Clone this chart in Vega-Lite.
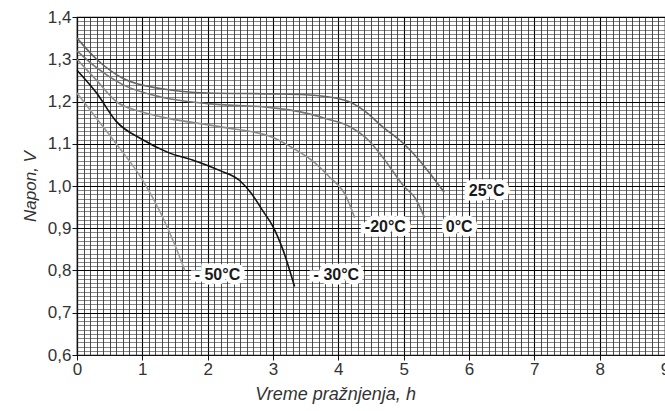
{
  "$schema": "https://vega.github.io/schema/vega-lite/v6.json",
  "width": 588,
  "height": 338,
  "autosize": "none",
  "padding": {"left": 77, "top": 17, "right": 0, "bottom": 56},
  "background": "white",
  "config": {
    "view": {"stroke": "#111", "strokeWidth": 1.2},
    "font": "Liberation Sans"
  },
  "datasets": {
    "curves": [
      {"t": "25°C", "h": 0, "v": 1.35}, {"t": "25°C", "h": 0.3, "v": 1.3}, {"t": "25°C", "h": 0.7, "v": 1.255}, {"t": "25°C", "h": 1.3, "v": 1.23}, {"t": "25°C", "h": 2.0, "v": 1.22}, {"t": "25°C", "h": 3.0, "v": 1.218}, {"t": "25°C", "h": 3.5, "v": 1.216}, {"t": "25°C", "h": 4.1, "v": 1.203}, {"t": "25°C", "h": 4.4, "v": 1.178}, {"t": "25°C", "h": 4.67, "v": 1.141}, {"t": "25°C", "h": 5.0, "v": 1.1}, {"t": "25°C", "h": 5.19, "v": 1.07}, {"t": "25°C", "h": 5.4, "v": 1.03}, {"t": "25°C", "h": 5.62, "v": 0.985},
      {"t": "0°C", "h": 0, "v": 1.32}, {"t": "0°C", "h": 0.3, "v": 1.28}, {"t": "0°C", "h": 0.7, "v": 1.24}, {"t": "0°C", "h": 1.3, "v": 1.21}, {"t": "0°C", "h": 2.0, "v": 1.195}, {"t": "0°C", "h": 3.0, "v": 1.185}, {"t": "0°C", "h": 3.4, "v": 1.176}, {"t": "0°C", "h": 3.8, "v": 1.16}, {"t": "0°C", "h": 4.17, "v": 1.141}, {"t": "0°C", "h": 4.45, "v": 1.11}, {"t": "0°C", "h": 4.67, "v": 1.07}, {"t": "0°C", "h": 5.0, "v": 1.0}, {"t": "0°C", "h": 5.19, "v": 0.968}, {"t": "0°C", "h": 5.32, "v": 0.925},
      {"t": "-20°C", "h": 0, "v": 1.3}, {"t": "-20°C", "h": 0.3, "v": 1.25}, {"t": "-20°C", "h": 0.6, "v": 1.2}, {"t": "-20°C", "h": 1.0, "v": 1.175}, {"t": "-20°C", "h": 1.4, "v": 1.16}, {"t": "-20°C", "h": 2.2, "v": 1.14}, {"t": "-20°C", "h": 3.0, "v": 1.115}, {"t": "-20°C", "h": 3.3, "v": 1.09}, {"t": "-20°C", "h": 3.6, "v": 1.06}, {"t": "-20°C", "h": 3.86, "v": 1.022}, {"t": "-20°C", "h": 4.12, "v": 0.975}, {"t": "-20°C", "h": 4.25, "v": 0.925},
      {"t": "-30°C", "h": 0, "v": 1.274}, {"t": "-30°C", "h": 0.3, "v": 1.22}, {"t": "-30°C", "h": 0.6, "v": 1.153}, {"t": "-30°C", "h": 1.0, "v": 1.11}, {"t": "-30°C", "h": 1.4, "v": 1.079}, {"t": "-30°C", "h": 1.8, "v": 1.06}, {"t": "-30°C", "h": 2.18, "v": 1.037}, {"t": "-30°C", "h": 2.49, "v": 1.013}, {"t": "-30°C", "h": 2.67, "v": 0.982}, {"t": "-30°C", "h": 2.85, "v": 0.94}, {"t": "-30°C", "h": 3.0, "v": 0.904}, {"t": "-30°C", "h": 3.15, "v": 0.85}, {"t": "-30°C", "h": 3.33, "v": 0.762},
      {"t": "-50°C", "h": 0, "v": 1.22}, {"t": "-50°C", "h": 0.3, "v": 1.16}, {"t": "-50°C", "h": 0.6, "v": 1.1}, {"t": "-50°C", "h": 1.0, "v": 1.015}, {"t": "-50°C", "h": 1.3, "v": 0.93}, {"t": "-50°C", "h": 1.5, "v": 0.86}, {"t": "-50°C", "h": 1.65, "v": 0.8}
    ],
    "labels": [
      {"txt": "25°C", "h": 6.27, "v": 0.987},
      {"txt": "0°C", "h": 5.85, "v": 0.902},
      {"txt": "-20°C", "h": 4.72, "v": 0.902},
      {"txt": "- 30°C", "h": 3.97, "v": 0.79},
      {"txt": "- 50°C", "h": 2.15, "v": 0.79}
    ]
  },
  "layer": [
    {
      "data": {"name": "curves"},
      "mark": {"type": "line", "strokeWidth": 1.6, "interpolate": "monotone"},
      "encoding": {
        "x": {
          "field": "h", "type": "quantitative",
          "scale": {"domain": [0, 9], "nice": false, "zero": false},
          "axis": {
            "title": "Vreme pražnjenja, h",
            "titleFont": "Liberation Sans", "titleFontSize": 18, "titleFontStyle": "italic", "titleFontWeight": "normal", "titleColor": "#333",
            "titleX": 258, "titlePadding": 8,
            "tickCount": 1000,
            "values": [0,0.1,0.2,0.3,0.4,0.5,0.6,0.7,0.8,0.9,1,1.1,1.2,1.3,1.4,1.5,1.6,1.7,1.8,1.9,2,2.1,2.2,2.3,2.4,2.5,2.6,2.7,2.8,2.9,3,3.1,3.2,3.3,3.4,3.5,3.6,3.7,3.8,3.9,4,4.1,4.2,4.3,4.4,4.5,4.6,4.7,4.8,4.9,5,5.1,5.2,5.3,5.4,5.5,5.6,5.7,5.8,5.9,6,6.1,6.2,6.3,6.4,6.5,6.6,6.7,6.8,6.9,7,7.1,7.2,7.3,7.4,7.5,7.6,7.7,7.8,7.9,8,8.1,8.2,8.3,8.4,8.5,8.6,8.7,8.8,8.9,9],
            "labelExpr": "abs(datum.value - round(datum.value)) < 0.001 ? format(datum.value, 'd') : ''",
            "labelOverlap": false, "labelFlush": false,
            "labelFontSize": 17, "labelColor": "#333", "labelPadding": 1,
            "tickSize": 5, "tickColor": "#111",
            "tickOpacity": {"condition": {"test": "abs(datum.value - round(datum.value)) < 0.001", "value": 1}, "value": 0},
            "domainColor": "#111", "domainWidth": 1.2,
            "grid": true,
            "gridColor": {"condition": {"test": "abs(datum.value - round(datum.value)) < 0.001", "value": "#000"}, "value": "#222"},
            "gridWidth": {"condition": {"test": "abs(datum.value - round(datum.value)) < 0.001", "value": 1.1}, "value": 0.8},
            "gridOpacity": 1
          }
        },
        "y": {
          "field": "v", "type": "quantitative",
          "scale": {"domain": [0.6, 1.4], "nice": false, "zero": false},
          "axis": {
            "title": "Napon, V",
            "titleFont": "Liberation Sans", "titleFontSize": 17, "titleFontStyle": "italic", "titleFontWeight": "normal", "titleColor": "#333",
            "titlePadding": 8,
            "tickCount": 1000,
            "values": [0.6,0.61,0.62,0.63,0.64,0.65,0.66,0.67,0.68,0.69,0.7,0.71,0.72,0.73,0.74,0.75,0.76,0.77,0.78,0.79,0.8,0.81,0.82,0.83,0.84,0.85,0.86,0.87,0.88,0.89,0.9,0.91,0.92,0.93,0.94,0.95,0.96,0.97,0.98,0.99,1,1.01,1.02,1.03,1.04,1.05,1.06,1.07,1.08,1.09,1.1,1.11,1.12,1.13,1.14,1.15,1.16,1.17,1.18,1.19,1.2,1.21,1.22,1.23,1.24,1.25,1.26,1.27,1.28,1.29,1.3,1.31,1.32,1.33,1.34,1.35,1.36,1.37,1.38,1.39,1.4],
            "labelExpr": "abs(datum.value * 10 - round(datum.value * 10)) < 0.001 ? replace(format(datum.value, '.1f'), '.', ',') : ''",
            "labelOverlap": false, "labelFlush": false,
            "labelFontSize": 17, "labelColor": "#333", "labelPadding": 1,
            "tickSize": 5, "tickColor": "#111",
            "tickOpacity": {"condition": {"test": "abs(datum.value * 10 - round(datum.value * 10)) < 0.001", "value": 1}, "value": 0},
            "domainColor": "#111", "domainWidth": 1.2,
            "grid": true,
            "gridColor": {"condition": {"test": "abs(datum.value * 10 - round(datum.value * 10)) < 0.001", "value": "#000"}, "value": "#333"},
            "gridWidth": {"condition": {"test": "abs(datum.value * 10 - round(datum.value * 10)) < 0.001", "value": 1.1}, "value": 0.6},
            "gridOpacity": 1
          }
        },
        "color": {
          "field": "t", "type": "nominal",
          "scale": {"domain": ["25°C", "0°C", "-20°C", "-30°C", "-50°C"], "range": ["#666666", "#777777", "#8c8c8c", "#111111", "#9a9a9a"]},
          "legend": null
        }
      }
    },
    {
      "data": {"name": "labels"},
      "mark": {"type": "text", "font": "Liberation Sans", "fontSize": 16, "fontWeight": "bold", "stroke": "white", "strokeWidth": 9, "strokeJoin": "miter", "fill": "white"},
      "encoding": {
        "x": {"field": "h", "type": "quantitative"},
        "y": {"field": "v", "type": "quantitative"},
        "text": {"field": "txt"}
      }
    },
    {
      "data": {"name": "labels"},
      "mark": {"type": "text", "font": "Liberation Sans", "fontSize": 16, "fontWeight": "bold", "fill": "#1a1a1a"},
      "encoding": {
        "x": {"field": "h", "type": "quantitative"},
        "y": {"field": "v", "type": "quantitative"},
        "text": {"field": "txt"}
      }
    }
  ]
}
